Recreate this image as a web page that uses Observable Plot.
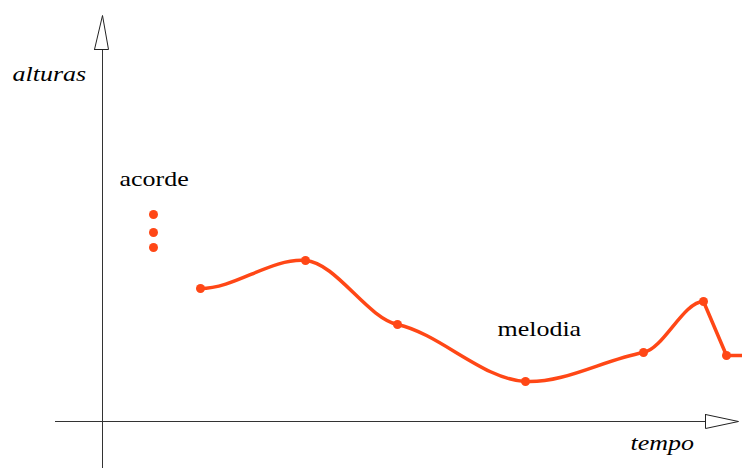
<!DOCTYPE html>
<html><head><meta charset="utf-8">
<script src="https://cdn.jsdelivr.net/npm/d3@7"></script>
<script src="https://cdn.jsdelivr.net/npm/@observablehq/plot@0.6"></script>
<style>body{margin:0;background:#fff}</style>
</head><body><div id="chart"></div>
<script>
// melody: time vs pitch height (axis origin = 0)
const melodyTime   = [98, 203, 295, 423, 541, 601];
const melodyHeight = [133, 161, 97, 40, 69, 120];
const tailTime     = [601, 624, 640];
const tailHeight   = [120, 66, 66];
const chordTime    = [51, 51, 51];
const chordHeight  = [207, 189, 174];
const italicLabels = [
  {t: -90, h: 348, label: "alturas"},
  {t: 528, h: -21, label: "tempo"}
];
const plainLabels = [
  {t: 17, h: 243, label: "acorde"},
  {t: 395, h: 93, label: "melodia"}
];
const xAxisExtent = [-47, 603];
const yAxisExtent = [-47, 372];
const xArrow = [{t:603,h:7},{t:636,h:0},{t:603,h:-7},{t:603,h:7}];
const yArrow = [{t:-8,h:372},{t:0,h:406},{t:6,h:372},{t:-8,h:372}];

const melody = melodyTime.map((t,i)=>({t, h: melodyHeight[i]}));
const tail = tailTime.map((t,i)=>({t, h: tailHeight[i]}));
const chord = chordTime.map((t,i)=>({t, h: chordHeight[i]}));
const col = "#ff4716";

// soft Hermite spline: tangents are a fraction of the central difference
function softCurve(context) {
  const k = 0.4;
  let pts;
  return {
    areaStart() {}, areaEnd() {},
    lineStart() { pts = []; },
    point(x, y) { pts.push([+x, +y]); },
    lineEnd() {
      const n = pts.length;
      if (!n) return;
      const m = pts.map((p, i) => {
        if (i === 0 || i === n - 1) return 0;
        const a = pts[i - 1], b = pts[i + 1];
        return k * (b[1] - a[1]) / (b[0] - a[0]);
      });
      context.moveTo(pts[0][0], pts[0][1]);
      for (let i = 0; i < n - 1; i++) {
        const p = pts[i], q = pts[i + 1], d = (q[0] - p[0]) / 3;
        context.bezierCurveTo(p[0] + d, p[1] + m[i] * d, q[0] - d, q[1] - m[i + 1] * d, q[0], q[1]);
      }
    }
  };
}

const plot = Plot.plot({
  width: 742, height: 470, margin: 0,
  x: {domain: [-102, 640], axis: null},
  y: {domain: [-49, 421], axis: null},
  marks: [
    Plot.ruleY([0], {x1: xAxisExtent[0], x2: xAxisExtent[1], stroke: "#333", strokeWidth: 1}),
    Plot.ruleX([0], {y1: yAxisExtent[0], y2: yAxisExtent[1], stroke: "#333", strokeWidth: 1}),
    Plot.line(xArrow, {x: "t", y: "h", fill: "white", stroke: "#222", strokeWidth: 1}),
    Plot.line(yArrow, {x: "t", y: "h", fill: "white", stroke: "#222", strokeWidth: 1}),
    Plot.line(melody, {x: "t", y: "h", curve: softCurve, stroke: col, strokeWidth: 3.5}),
    Plot.line(tail, {x: "t", y: "h", curve: "linear", stroke: col, strokeWidth: 3.5}),
    Plot.dot(melody.concat(tail.slice(1,2)), {x: "t", y: "h", r: 4.5, fill: col}),
    Plot.dot(chord, {x: "t", y: "h", r: 4.5, fill: col}),
    Plot.text(plainLabels, {x: "t", y: "h", text: d => d.label, textAnchor: "start", fontSize: 22,
      fontFamily: "Liberation Serif"}),
    Plot.text(italicLabels, {x: "t", y: "h", text: d => d.label, textAnchor: "start", fontSize: 22,
      fontFamily: "Liberation Serif", fontStyle: "italic"})
  ]
});
document.getElementById("chart").append(plot);
// the reference lettering is drawn slightly wider than its height suggests
d3.select(plot).selectAll("text").each(function() {
  const L = this.getComputedTextLength();
  if (L > 0) {
    this.setAttribute("textLength", L * 1.18);
    this.setAttribute("lengthAdjust", "spacingAndGlyphs");
  }
});
</script></body></html>
